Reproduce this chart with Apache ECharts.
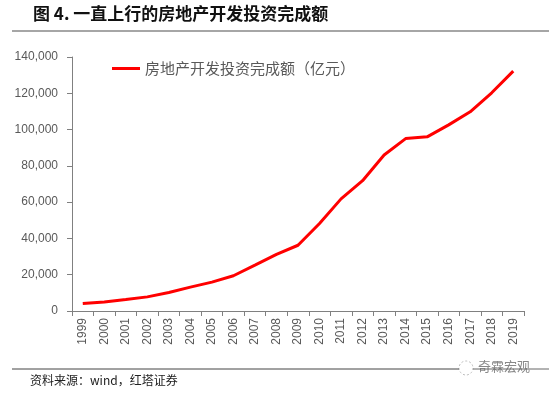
<!DOCTYPE html>
<html><head><meta charset="utf-8">
<script src="https://cdn.jsdelivr.net/npm/echarts@6/dist/echarts.min.js"></script>
<style>html,body{margin:0;padding:0;background:#fff}#c{width:550px;height:394px}</style>
</head><body><div id="c"></div>
<script>
const years = ['1999','2000','2001','2002','2003','2004','2005','2006','2007','2008','2009','2010','2011','2012','2013','2014','2015','2016','2017','2018','2019'];
const investment = [4103,4984,6344,7791,10154,13158,15909,19423,25289,31203,36242,48259,61796,71804,86013,95036,95979,102581,109799,120264,132194];
const seriesName = '房地产开发投资完成额（亿元）';
const chart = echarts.init(document.getElementById('c'));
const txt = '#595959';
chart.setOption({
  animation:false,
  graphic:[
    {type:'text',left:33,top:5,style:{text:'图 4. 一直上行的房地产开发投资完成额',font:'bold 17px "Noto Sans CJK SC"',fill:'#111'}},
    {type:'line',shape:{x1:12,y1:31,x2:549,y2:31},style:{stroke:'#888',lineWidth:1.5}},
    {type:'text',left:30,top:374,style:{text:'资料来源：wind，红塔证券',font:'12px "Noto Sans CJK SC"',fill:'#222'}},
    {type:'circle',shape:{cx:466,cy:368,r:7},style:{fill:'#fff',stroke:'#bbb',lineWidth:1,lineDash:[2,2]}},
    {type:'text',left:478,top:360,style:{text:'奇霖宏观',font:'13px "Noto Sans CJK SC"',fill:'#888'}},
    {type:'line',shape:{x1:12,y1:369,x2:459,y2:369},style:{stroke:'#444',lineWidth:1}},
    {type:'line',shape:{x1:473,y1:369,x2:549,y2:369},style:{stroke:'#666',lineWidth:1}}
  ],
  legend:{left:112,top:61,padding:0,itemWidth:28,itemHeight:3,itemGap:3,icon:'rect',
    textStyle:{color:txt,fontSize:15,fontFamily:'"Noto Sans CJK SC"'},data:[seriesName]},
  grid:{left:72,right:26,top:57,bottom:83},
  xAxis:{type:'category',data:years,boundaryGap:true,
    axisLine:{lineStyle:{color:'#808080'}},
    axisTick:{show:true,lineStyle:{color:'#808080'}},
    axisLabel:{rotate:90,color:txt,fontSize:12,fontFamily:'Liberation Sans',margin:7,interval:0}},
  yAxis:{type:'value',min:0,max:140000,interval:20000,
    axisLine:{show:true,lineStyle:{color:'#808080'}},
    axisTick:{show:true,inside:false,length:5,lineStyle:{color:'#808080'}},
    splitLine:{show:false},
    axisLabel:{color:txt,fontSize:12,fontFamily:'Liberation Sans',margin:14,
      formatter:v=>v.toLocaleString('en-US')}},
  series:[{name:seriesName,type:'line',data:investment,symbol:'none',
    lineStyle:{color:'#ff0000',width:3},itemStyle:{color:'#ff0000'}}]
});
</script></body></html>
